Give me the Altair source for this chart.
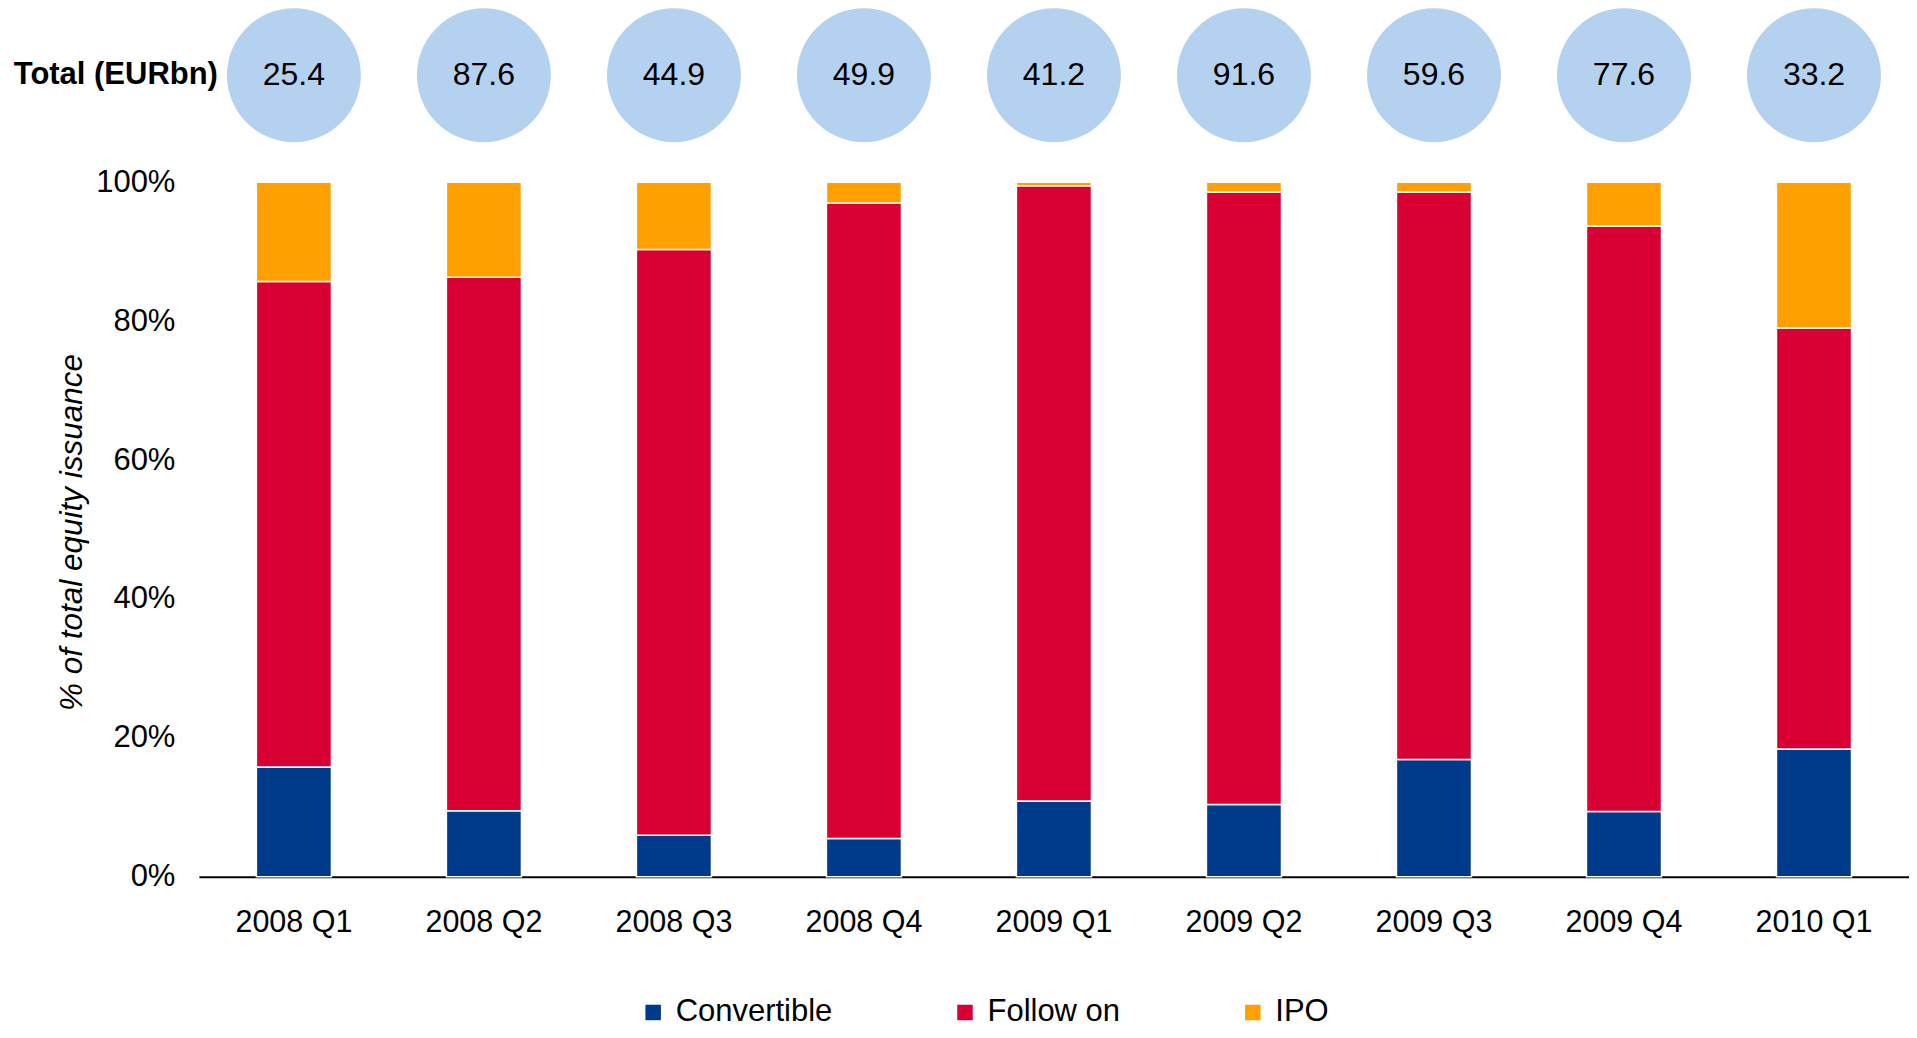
import altair as alt
import pandas as pd

quarters = ["2008 Q1", "2008 Q2", "2008 Q3", "2008 Q4", "2009 Q1",
            "2009 Q2", "2009 Q3", "2009 Q4", "2010 Q1"]
convertible = [15.8, 9.5, 6.0, 5.5, 10.9, 10.4, 16.9, 9.4, 18.4]
follow_on = [69.9, 76.8, 84.3, 91.5, 88.6, 88.2, 81.7, 84.3, 60.6]
ipo = [14.3, 13.7, 9.7, 3.0, 0.5, 1.4, 1.4, 6.3, 21.0]
totals = [25.4, 87.6, 44.9, 49.9, 41.2, 91.6, 59.6, 77.6, 33.2]
types = ["Convertible", "Follow on", "IPO"]
colors = ["#003A8A", "#D80032", "#FFA000"]

rows = []
for i, q in enumerate(quarters):
    for k, (t, vals) in enumerate(zip(types, [convertible, follow_on, ipo])):
        rows.append({"quarter": q, "type": t, "share": vals[i], "order": k})
df = pd.DataFrame(rows)
tot_df = pd.DataFrame({"quarter": quarters, "total": totals})
lab_df = pd.DataFrame({"label": ["Total (EURbn)"]})

FONT = "Liberation Sans"

x_axis = alt.Axis(title=None, labelAngle=0, ticks=False, tickSize=0,
                  labelPadding=31, labelFontSize=30.5, labelFont=FONT,
                  labelColor="#000000", domainColor="#000000",
                  domainWidth=2, grid=False)
x_scale = alt.Scale(paddingInner=0.605, paddingOuter=0.3025)


def xq():
    return alt.X("quarter:N", sort=quarters, scale=x_scale, axis=x_axis)


bars = alt.Chart(df).mark_bar(stroke="white", strokeWidth=1.5).encode(
    x=xq(),
    y=alt.Y("share:Q", stack="zero",
            scale=alt.Scale(domain=[0, 100], nice=False),
            axis=alt.Axis(values=[0, 20, 40, 60, 80, 100],
                          labelExpr="datum.value + '%'",
                          title="% of total equity issuance",
                          titleFontStyle="italic", titleFontWeight="normal",
                          titleFontSize=31.5, titleFont=FONT, titleColor="#000000",
                          titleX=-126, titleY=350, titleAngle=-90,
                          titleAlign="center", titleBaseline="middle",
                          labelFontSize=31, labelFont=FONT, labelColor="#000000",
                          labelPadding=24, ticks=False, tickSize=0,
                          domain=False, grid=False)),
    color=alt.Color("type:N",
                    scale=alt.Scale(domain=types, range=colors),
                    legend=alt.Legend(title=None, orient="none",
                                      legendX=439, legendY=815,
                                      direction="horizontal",
                                      symbolType="square", symbolSize=240,
                                      symbolStrokeWidth=0, symbolOpacity=1,
                                      labelFontSize=31, labelFont=FONT,
                                      labelColor="#000000", labelOffset=7,
                                      columnPadding=117, padding=0)),
    order=alt.Order("order:Q", sort="ascending"),
)

circles = alt.Chart(tot_df).mark_circle(size=134 * 134, color="#B4D2F0",
                                        opacity=1).encode(
    x=xq(),
    y=alt.value(-107),
)

circle_text = alt.Chart(tot_df).mark_text(fontSize=32, font=FONT,
                                          color="#000000",
                                          baseline="middle").encode(
    x=xq(),
    y=alt.value(-107),
    text=alt.Text("total:Q", format=".1f"),
)

label = alt.Chart(lab_df).mark_text(fontSize=31, font=FONT, fontWeight="bold",
                                    color="#000000", align="right",
                                    baseline="middle").encode(
    x=alt.value(19),
    y=alt.value(-107),
    text="label:N",
)

chart = alt.layer(bars, circles, circle_text, label).properties(
    width=1711, height=695,
    padding={"left": 191, "top": 174, "right": 0, "bottom": 153},
    autosize=alt.AutoSizeParams(type="none"),
).configure(font=FONT).configure_view(stroke=None)

chart.save("out.html", embed_options={"renderer": "svg", "actions": False})
